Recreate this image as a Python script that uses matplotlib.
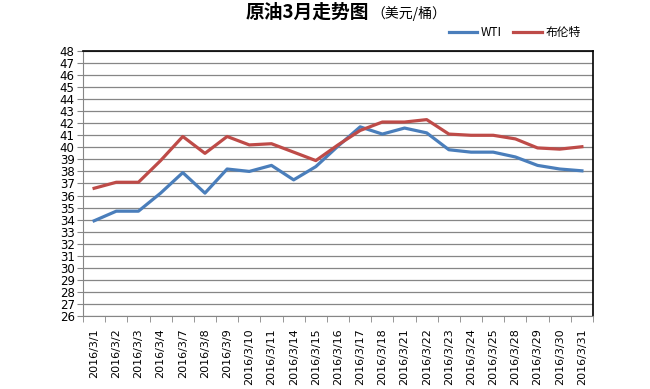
import numpy as np
import matplotlib.pyplot as plt

plt.rcParams['font.family'] = ['Noto Sans CJK SC', 'DejaVu Sans']

dates = ['2016/3/1', '2016/3/2', '2016/3/3', '2016/3/4', '2016/3/7', '2016/3/8',
         '2016/3/9', '2016/3/10', '2016/3/11', '2016/3/14', '2016/3/15', '2016/3/16',
         '2016/3/17', '2016/3/18', '2016/3/21', '2016/3/22', '2016/3/23', '2016/3/24',
         '2016/3/25', '2016/3/28', '2016/3/29', '2016/3/30', '2016/3/31']
wti = [33.9, 34.7, 34.7, 36.2, 37.9, 36.2, 38.2, 38.0, 38.5, 37.3, 38.4, 40.1,
       41.7, 41.1, 41.6, 41.2, 39.8, 39.6, 39.6, 39.2, 38.5, 38.2, 38.05]
brent = [36.6, 37.1, 37.1, 38.9, 40.9, 39.5, 40.9, 40.2, 40.3, 39.6, 38.9, 40.2,
         41.4, 42.1, 42.1, 42.3, 41.1, 41.0, 41.0, 40.7, 39.95, 39.85, 40.05]

fig = plt.figure(figsize=(6.5, 3.89), dpi=100)
ax = fig.add_axes([0.1277, 0.1877, 0.7846, 0.6813])

x = np.arange(len(dates))
ax.plot(x, wti, color='#4A7EBB', lw=2.3, label='WTI')
ax.plot(x, brent, color='#BE4B48', lw=2.3, label='布伦特')

ax.set_xlim(-0.5, len(dates) - 0.5)
ax.set_ylim(26, 48)
ax.set_yticks(range(26, 49))
ax.set_xticks(x)
ax.set_xticklabels(dates, rotation=90, fontsize=8, family='DejaVu Sans')
ax.set_xticks(np.arange(-0.5, len(dates), 1), minor=True)
ax.tick_params(axis='x', which='major', length=0, pad=9)
ax.tick_params(axis='x', which='minor', length=4, color='#868686', direction='out')
ax.tick_params(axis='y', length=4, color='#868686', labelsize=8.5, pad=2)
for t in ax.get_yticklabels():
    t.set_family('DejaVu Sans')
ax.grid(axis='y', color='#868686', lw=0.9)
ax.set_axisbelow(True)

ax.spines['top'].set_color('black')
ax.spines['top'].set_linewidth(1.2)
ax.spines['left'].set_color('#868686')
ax.spines['bottom'].set_color('#868686')
ax.spines['right'].set_color('black')
ax.spines['right'].set_linewidth(1.2)

fig.text(0.378, 0.969, '原油3月走势图', fontsize=13.5, fontweight='bold', va='center')
fig.text(0.572, 0.965, '（美元/桶）', fontsize=10, va='center')

ax.legend(loc='center right', bbox_to_anchor=(0.985, 1.068), ncol=2, frameon=False,
          fontsize=8.5, handlelength=2.4, handletextpad=0.3, columnspacing=1.0,
          borderaxespad=0)

fig.savefig('out.png', dpi=100)
